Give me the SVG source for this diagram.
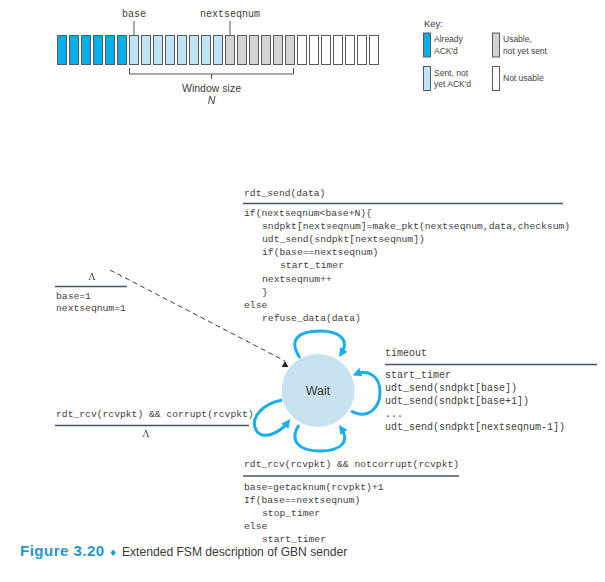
<svg xmlns="http://www.w3.org/2000/svg" width="605" height="582" viewBox="0 0 605 582">
<defs>
<style>
.code{font-family:"Liberation Mono","DejaVu Sans Mono",monospace;fill:#404040;font-size:9.7px}
.code10{font-family:"Liberation Mono","DejaVu Sans Mono",monospace;fill:#404040;font-size:10px}
.sans{font-family:"Liberation Sans",Arial,sans-serif;fill:#3a3a3a}
.key{font-family:"Liberation Sans",Arial,sans-serif;fill:#444;font-size:8.5px}
.lam{font-family:"Liberation Serif","Times New Roman",serif;fill:#3a3a3a;font-size:10px}
.rule{stroke:#4d5266;stroke-width:1.5;fill:none}
.box{stroke:#5a5a5a;stroke-width:1}
.ack{fill:#08aee8}
.sent{fill:#c0e5f8}
.usable{fill:#d1d3d4}
.unusable{fill:#ffffff}
.tick{stroke:#555;stroke-width:1;fill:none}
.loop{fill:none;stroke:#1aaeea;stroke-width:3;marker-end:url(#blueArrow)}
.init{fill:none;stroke:#3a3a3a;stroke-width:1;stroke-dasharray:5 3.5;marker-end:url(#initArrow)}
</style>
<marker id="blueArrow" markerUnits="userSpaceOnUse" viewBox="0 0 10 10" markerWidth="9" markerHeight="9" refX="6" refY="5" orient="auto">
<path d="M0,0 L10,5 L0,10 z" fill="#1aaeea"/>
</marker>
<marker id="initArrow" markerUnits="userSpaceOnUse" viewBox="0 0 7 6" markerWidth="7" markerHeight="6" refX="3.5" refY="0" orient="0">
<path d="M3.5,0 L7,6 L0,6 z" fill="#222"/>
</marker>
</defs>
<rect width="605" height="582" fill="#ffffff"/>

<g id="window">
<text class="code10" x="134" y="17" text-anchor="middle">base</text>
<text class="code10" x="230" y="17" text-anchor="middle">nextseqnum</text>
<line class="tick" x1="134" y1="21" x2="134" y2="35.5"/>
<line class="tick" x1="230" y1="21" x2="230" y2="35.5"/>
<g class="box">
<rect class="ack" x="57.5" y="35.5" width="9" height="29"/>
<rect class="ack" x="69.5" y="35.5" width="9" height="29"/>
<rect class="ack" x="81.5" y="35.5" width="9" height="29"/>
<rect class="ack" x="93.5" y="35.5" width="9" height="29"/>
<rect class="ack" x="105.5" y="35.5" width="9" height="29"/>
<rect class="ack" x="117.5" y="35.5" width="9" height="29"/>
<rect class="sent" x="129.5" y="35.5" width="9" height="29"/>
<rect class="sent" x="141.5" y="35.5" width="9" height="29"/>
<rect class="sent" x="153.5" y="35.5" width="9" height="29"/>
<rect class="sent" x="165.5" y="35.5" width="9" height="29"/>
<rect class="sent" x="177.5" y="35.5" width="9" height="29"/>
<rect class="sent" x="189.5" y="35.5" width="9" height="29"/>
<rect class="sent" x="201.5" y="35.5" width="9" height="29"/>
<rect class="sent" x="213.5" y="35.5" width="9" height="29"/>
<rect class="usable" x="225.5" y="35.5" width="9" height="29"/>
<rect class="usable" x="237.5" y="35.5" width="9" height="29"/>
<rect class="usable" x="249.5" y="35.5" width="9" height="29"/>
<rect class="usable" x="261.5" y="35.5" width="9" height="29"/>
<rect class="usable" x="273.5" y="35.5" width="9" height="29"/>
<rect class="usable" x="285.5" y="35.5" width="9" height="29"/>
<rect class="unusable" x="297.5" y="35.5" width="9" height="29"/>
<rect class="unusable" x="309.5" y="35.5" width="9" height="29"/>
<rect class="unusable" x="321.5" y="35.5" width="9" height="29"/>
<rect class="unusable" x="333.5" y="35.5" width="9" height="29"/>
<rect class="unusable" x="345.5" y="35.5" width="9" height="29"/>
<rect class="unusable" x="357.5" y="35.5" width="9" height="29"/>
<rect class="unusable" x="369.5" y="35.5" width="9" height="29"/>
</g>
<path class="tick" d="M129.5 68 V74 H293.5 V68 M211.5 74 V79"/>
<text class="sans" x="211.5" y="92" text-anchor="middle" font-size="10.5">Window size</text>
<text class="sans" x="211.5" y="104" text-anchor="middle" font-size="10.5" font-style="italic">N</text>
</g>

<g id="key">
<text class="sans" x="424" y="26.5" font-size="9.5">Key:</text>
<rect class="box ack" x="423.5" y="33" width="7" height="24"/>
<text class="key" x="434" y="42">Already</text>
<text class="key" x="434" y="53.5">ACK'd</text>
<rect class="box sent" x="423.5" y="66.5" width="7" height="24"/>
<text class="key" x="434" y="75.5">Sent, not</text>
<text class="key" x="434" y="87">yet ACK'd</text>
<rect class="box usable" x="492.5" y="33" width="7" height="24"/>
<text class="key" x="503" y="42">Usable,</text>
<text class="key" x="503" y="53.5">not yet sent</text>
<rect class="box unusable" x="492.5" y="66.5" width="7" height="24"/>
<text class="key" x="503" y="81">Not usable</text>
</g>

<g id="node-wait">
<circle cx="318" cy="390.5" r="36.5" fill="#c7e1ef"/>
<text class="sans" x="318" y="395" text-anchor="middle" font-size="12.5">Wait</text>
</g>

<g id="connectors">
<path class="init" d="M110 270 L285 361"/>
<path class="loop" d="M300 358 C288 340 298 331 320 331 C340 331 350 340 341 354"/>
<path class="loop" d="M351 411 C368 420 380 408 380 392 C380 376 368 369 356 374"/>
<path class="loop" d="M299 425 C289 440 298 451 320 451 C342 451 350 441 341 428"/>
<path class="loop" d="M282 400 C262 404 250 418 256 430 C262 441 280 433 288 422"/>
</g>

<g id="label-init">
<text class="lam" x="92" y="280" text-anchor="middle">Λ</text>
<line class="rule" x1="55" y1="286.5" x2="127" y2="286.5"/>
<text class="code" x="56" y="298.5">base=1</text>
<text class="code" x="56" y="311">nextseqnum=1</text>
</g>

<g id="label-send">
<text class="code" x="244" y="196" font-size="9.3">rdt_send(data)</text>
<line class="rule" x1="243" y1="203.5" x2="563" y2="203.5"/>
<text class="code" x="244" y="215.5" font-size="9.5">if(nextseqnum&lt;base+N){</text>
<text class="code" x="262" y="228.7" font-size="9.5">sndpkt[nextseqnum]=make_pkt(nextseqnum,data,checksum)</text>
<text class="code" x="262" y="241.9" font-size="9.5">udt_send(sndpkt[nextseqnum])</text>
<text class="code" x="262" y="255.1" font-size="9.5">if(base==nextseqnum)</text>
<text class="code" x="280" y="268.3" font-size="9.5">start_timer</text>
<text class="code" x="262" y="281.5" font-size="9.5">nextseqnum++</text>
<text class="code" x="262" y="294.7" font-size="9.5">}</text>
<text class="code" x="244" y="307.9" font-size="9.5">else</text>
<text class="code" x="262" y="321.1" font-size="9.5">refuse_data(data)</text>
</g>

<g id="label-timeout">
<text class="code10" x="385" y="356">timeout</text>
<line class="rule" x1="385" y1="364.5" x2="597" y2="364.5"/>
<text class="code10" x="385" y="378">start_timer</text>
<text class="code10" x="385" y="391">udt_send(sndpkt[base])</text>
<text class="code10" x="385" y="404">udt_send(sndpkt[base+1])</text>
<text class="code10" x="385" y="417">...</text>
<text class="code10" x="385" y="430">udt_send(sndpkt[nextseqnum-1])</text>
</g>

<g id="label-corrupt">
<text class="code" x="56" y="416.5">rdt_rcv(rcvpkt) &amp;&amp; corrupt(rcvpkt)</text>
<line class="rule" x1="55" y1="425.5" x2="249" y2="425.5"/>
<text class="lam" x="146" y="437" text-anchor="middle">Λ</text>
</g>

<g id="label-ack">
<text class="code" x="244" y="467" font-size="9.2">rdt_rcv(rcvpkt) &amp;&amp; notcorrupt(rcvpkt)</text>
<line class="rule" x1="243" y1="476" x2="459" y2="476"/>
<text class="code" x="244" y="489.5">base=getacknum(rcvpkt)+1</text>
<text class="code" x="244" y="502.5">If(base==nextseqnum)</text>
<text class="code" x="262" y="515.5">stop_timer</text>
<text class="code" x="244" y="528.5">else</text>
<text class="code" x="262" y="541.5">start_timer</text>
</g>

<g id="caption">
<text class="sans" y="556" font-size="12.1"><tspan x="20" fill="#1e98d4" font-weight="bold" font-size="15" letter-spacing="0.5">Figure 3.20</tspan><tspan x="109" fill="#1e98d4" font-size="9" font-family="DejaVu Sans,sans-serif">♦</tspan><tspan x="122">Extended FSM description of GBN sender</tspan></text>
</g>
</svg>
